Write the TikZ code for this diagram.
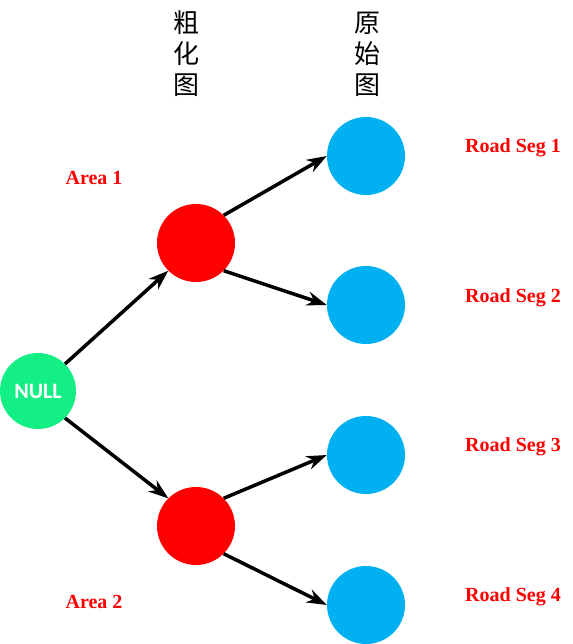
\documentclass[tikz,border=0pt]{standalone}
\usepackage{fontspec}
\setmainfont{Liberation Serif}
\newfontfamily\cjk{Noto Sans CJK SC}
\newfontfamily\carlitofont{Carlito}
\usetikzlibrary{arrows.meta}
\definecolor{nullgreen}{HTML}{14EF85}
\definecolor{segblue}{HTML}{00B0F0}
\definecolor{areared}{HTML}{FF0000}
\begin{document}
\begin{tikzpicture}[x=1pt,y=-1pt,
  dot/.style={circle,minimum size=78pt,inner sep=0pt},
  rootdot/.style={dot,fill=nullgreen,minimum size=76pt,text=white,font=\carlitofont\bfseries\fontsize{22}{24}\selectfont},
  areadot/.style={dot,fill=red},
  segdot/.style={dot,fill=segblue},
  lbl/.style={text=areared,font=\bfseries\fontsize{20}{22}\selectfont},
  head/.style={font=\cjk\fontsize{26}{31}\selectfont,align=center},
  conn/.style={line width=3.5pt,-{Stealth[length=20pt,width=14pt]}}
]
\useasboundingbox (0,0) rectangle (572,644);
\node[rootdot] (null) at (38,391) {NULL};
\node[areadot] (a1) at (196,243) {};
\node[areadot] (a2) at (196,526) {};
\node[segdot] (s1) at (366,156) {};
\node[segdot] (s2) at (366,305) {};
\node[segdot] (s3) at (366,455) {};
\node[segdot] (s4) at (366,605) {};
\node[head] (h1) at (186,54) {粗\\化\\图};
\node[head] (h2) at (367,54) {原\\始\\图};
\node[lbl] (l1) at (94,178) {Area 1};
\node[lbl] (l2) at (94,602) {Area 2};
\node[lbl] (r1) at (513,148) {Road Seg 1};
\node[lbl] (r2) at (513,298) {Road Seg 2};
\node[lbl] (r3) at (513,447) {Road Seg 3};
\node[lbl] (r4) at (513,597) {Road Seg 4};
\draw[conn] (null.north east) -- (a1.south west);
\draw[conn] (null.south east) -- (a2.north west);
\draw[conn] (a1.north east) -- (s1.west);
\draw[conn] (a1.south east) -- (s2.west);
\draw[conn] (a2.north east) -- (s3.west);
\draw[conn] (a2.south east) -- (s4.west);
\end{tikzpicture}
\end{document}
